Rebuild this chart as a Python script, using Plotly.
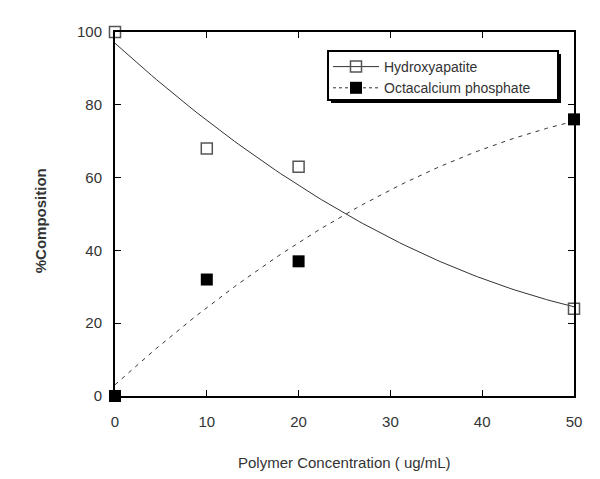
import numpy as np
import plotly.graph_objects as go

# Polymer concentration (ug/mL) and % composition of each phase
conc = [0, 10, 20, 50]
hydroxyapatite = [100, 68, 63, 24]
octacalcium = [0, 32, 37, 76]
names = ["Hydroxyapatite", "Octacalcium phosphate"]

# quadratic least-squares trend lines, like the original software drew
xfit = np.linspace(0, 50, 101)
hap_fit = np.polyval(np.polyfit(conc, hydroxyapatite, 2), xfit)
ocp_fit = np.polyval(np.polyfit(conc, octacalcium, 2), xfit)

FONT = "Liberation Sans, Arial, sans-serif"
TXT = "#333333"
W, H = 600, 479
L, R, T, B = 107, 34, 24, 91
pw, ph = W - L - R, H - T - B

def px(x):  # pixel -> paper x
    return (x - L) / pw

def py(y):  # pixel -> paper y
    return (H - B - y) / ph

hap_marker = dict(symbol="square-open", size=11, color="#555555", line=dict(width=1.5))
ocp_marker = dict(symbol="square", size=12, color="black")

fig = go.Figure()

# trend lines
fig.add_trace(go.Scatter(x=xfit, y=hap_fit, mode="lines", showlegend=False,
                         hoverinfo="skip", line=dict(color="#333333", width=1)))
fig.add_trace(go.Scatter(x=xfit, y=ocp_fit, mode="lines", showlegend=False,
                         hoverinfo="skip", line=dict(color="#333333", width=1, dash="4px,5px")))

# data points
fig.add_trace(go.Scatter(x=conc, y=hydroxyapatite, mode="markers", name=names[0],
                         showlegend=False, marker=hap_marker, cliponaxis=False))
fig.add_trace(go.Scatter(x=conc, y=octacalcium, mode="markers", name=names[1],
                         showlegend=False, marker=ocp_marker, cliponaxis=False))

# legend entries (line + marker)
fig.add_trace(go.Scatter(x=[None], y=[None], mode="lines+markers", name=names[0],
                         line=dict(color="#333333", width=1), marker=hap_marker))
fig.add_trace(go.Scatter(x=[None], y=[None], mode="lines+markers", name=names[1],
                         line=dict(color="#333333", width=1, dash="3px,3px"), marker=ocp_marker))

# legend frame with drop shadow (legend itself is transparent on top)
fig.add_shape(type="rect", xref="paper", yref="paper",
              x0=px(323), x1=px(553), y0=py(95), y1=py(46),
              fillcolor="black", line=dict(width=0), layer="above")
fig.add_shape(type="rect", xref="paper", yref="paper",
              x0=px(320), x1=px(550), y0=py(92), y1=py(43),
              fillcolor="white", line=dict(color="black", width=2), layer="above")

fig.update_layout(
    width=W, height=H,
    margin=dict(l=L, r=R, t=T, b=B),
    paper_bgcolor="white", plot_bgcolor="white",
    font=dict(family=FONT, size=15, color=TXT),
    legend=dict(
        x=px(320), y=py(43), xanchor="left", yanchor="top",
        bgcolor="rgba(0,0,0,0)", borderwidth=0,
        font=dict(size=14, color=TXT), tracegroupgap=0,
        itemwidth=46,
    ),
    annotations=[
        dict(text="Polymer Concentration ( ug/mL)", xref="paper", yref="paper",
             x=0.5, y=py(454), xanchor="center", yanchor="middle",
             showarrow=False, font=dict(size=15, color=TXT)),
        dict(text="<b>%Composition</b>", xref="paper", yref="paper",
             x=px(32), y=0.48, xanchor="center", yanchor="middle", textangle=-90,
             showarrow=False, font=dict(size=15, color=TXT)),
    ],
)

fig.update_xaxes(
    range=[0, 50], tickvals=[0, 10, 20, 30, 40, 50],
    showgrid=False, zeroline=False,
    showline=True, linecolor="black", linewidth=2, mirror="ticks",
    ticks="inside", ticklen=6, tickcolor="black", tickwidth=1,
    ticklabelstandoff=11,
)
fig.update_yaxes(
    range=[0, 100], tickvals=[0, 20, 40, 60, 80, 100],
    showgrid=False, zeroline=False,
    showline=True, linecolor="black", linewidth=2, mirror="ticks",
    ticks="inside", ticklen=6, tickcolor="black", tickwidth=1,
    ticklabelstandoff=8,
)

fig.write_html("out.html")
